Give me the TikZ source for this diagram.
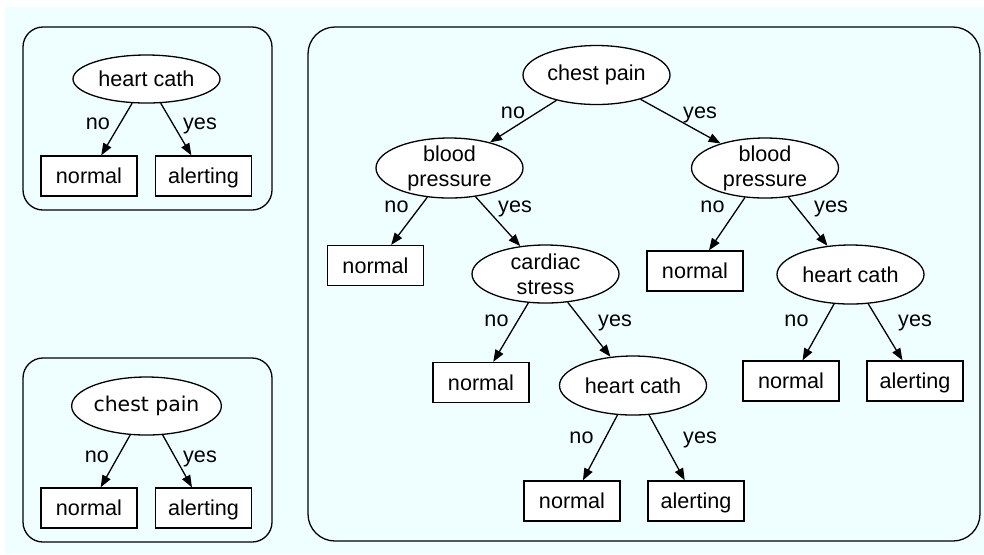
\documentclass[tikz,border=0pt]{standalone}
\usepackage{fontspec}
\setmainfont{Liberation Sans}
\newfontfamily\lucidafont{DejaVu Sans}
\usetikzlibrary{shapes.geometric,arrows.meta}
\definecolor{bgcyan}{RGB}{239,255,255}
\begin{document}
\begin{tikzpicture}[x=0.5pt,y=-0.5pt,
  every node/.style={font=\fontsize{10.8}{12.5}\selectfont},
  dec/.style={ellipse, draw, fill=white, line width=0.65pt, inner xsep=0pt, inner ysep=-3pt, minimum width=73.5pt, align=center},
  leaf/.style={rectangle, draw, fill=white, line width=0.65pt, minimum width=48pt, minimum height=20pt, inner sep=0pt, text height=7.7pt, text depth=0pt},
  arr/.style={line width=0.65pt, -{Triangle[length=6pt,width=4.5pt]}},
  frame/.style={draw, line width=0.65pt},
  lbl/.style={inner sep=0pt, text height=5.6pt, text depth=0pt}
]
\useasboundingbox (0,0) rectangle (984,554);
\fill[white] (0,0) rectangle (984,554);
\fill[bgcyan] (5,7) rectangle (984,554);

% frames
\draw[frame, rounded corners=10pt] (23,27) rectangle (272,210);
\draw[frame, rounded corners=10pt] (23,358) rectangle (272,542);
\draw[frame, rounded corners=13.5pt] (308,27) rectangle (980,541);

% top-left tree
\node[dec, minimum height=24pt] (hc1) at (146.5,79) {heart cath};
\node[leaf] (n1) at (89,176) {normal};
\node[leaf] (a1) at (203.5,176) {alerting};
\draw[arr] (hc1) -- (n1);
\draw[arr] (hc1) -- (a1);
\node[lbl] (l1) at (98,124) {no};
\node[lbl] (l2) at (200,124) {yes};

% bottom-left tree
\node[dec, minimum height=29pt, font=\lucidafont\fontsize{10.2}{12}\selectfont] (cp2) at (146.5,406) {chest pain};
\node[leaf] (n2) at (89,508) {normal};
\node[leaf] (a2) at (203.5,508) {alerting};
\draw[arr] (cp2) -- (n2);
\draw[arr] (cp2) -- (a2);
\node[lbl] (l3) at (97,457) {no};
\node[lbl] (l4) at (200,457) {yes};

% big tree
\node[dec, minimum height=29.5pt] (cp) at (596.5,75) {chest pain};
\node[dec, minimum height=30pt] (bp1) at (449.5,168) {blood\\pressure};
\node[dec, minimum height=30pt] (bp2) at (765,168) {blood\\pressure};
\node[leaf] (n3) at (375.5,265.5) {normal};
\node[dec, minimum height=29pt] (cs) at (545.5,274) {cardiac\\stress};
\node[leaf] (n4) at (695,271) {normal};
\node[dec, minimum height=29.5pt] (hc3) at (850.5,274.5) {heart cath};
\node[leaf] (n6) at (481,382.5) {normal};
\node[dec, minimum height=29.5pt] (hc2) at (633,385.5) {heart cath};
\node[leaf] (n5) at (791,381) {normal};
\node[leaf] (a5) at (915,381) {alerting};
\node[leaf] (n7) at (572,501) {normal};
\node[leaf] (a7) at (696,501) {alerting};

\draw[arr] (cp) -- (bp1);
\draw[arr] (cp) -- (bp2);
\draw[arr] (bp1) -- (n3);
\draw[arr] (bp1) -- (cs);
\draw[arr] (bp2) -- (n4);
\draw[arr] (bp2) -- (hc3);
\draw[arr] (cs) -- (n6);
\draw[arr] (cs) -- (hc2);
\draw[arr] (hc3) -- (n5);
\draw[arr] (hc3) -- (a5);
\draw[arr] (hc2) -- (n7);
\draw[arr] (hc2) -- (a7);

\node[lbl] (l5) at (513,113) {no};
\node[lbl] (l6) at (700,113) {yes};
\node[lbl] (l7) at (396.5,207) {no};
\node[lbl] (l8) at (515,207) {yes};
\node[lbl] (l9) at (712.5,207) {no};
\node[lbl] (l10) at (831,207) {yes};
\node[lbl] (l11) at (496.5,321) {no};
\node[lbl] (l12) at (615,321) {yes};
\node[lbl] (l13) at (796.5,321) {no};
\node[lbl] (l14) at (915,321) {yes};
\node[lbl] (l15) at (581.5,438) {no};
\node[lbl] (l16) at (700,438) {yes};
\end{tikzpicture}
\end{document}
